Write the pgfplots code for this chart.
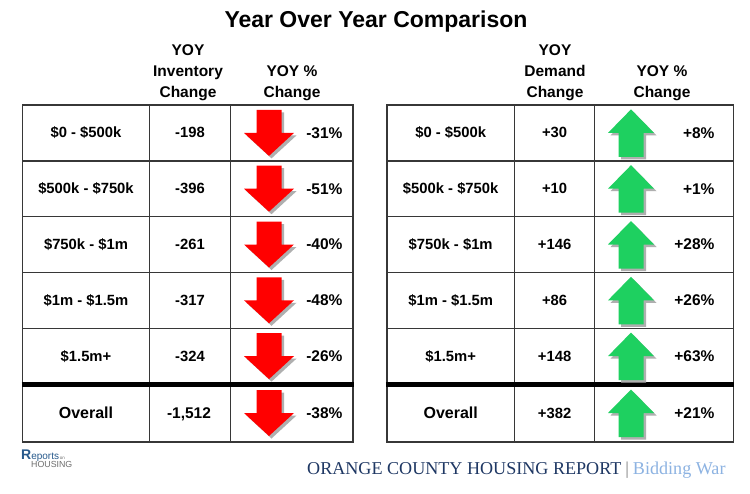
\documentclass[border=0pt]{standalone}
\usepackage{pgfplots}
\pgfplotsset{compat=1.18}
\usepackage{fontspec}
\setmainfont{Liberation Sans}
\newfontfamily\seriffont{Liberation Serif}
\definecolor{arrred}{RGB}{255,0,0}
\definecolor{arrgreen}{RGB}{30,208,96}
\definecolor{shadowgray}{RGB}{175,175,175}
\definecolor{gridc}{RGB}{55,55,55}
\definecolor{navy}{RGB}{31,56,100}
\definecolor{lightblue}{RGB}{141,179,226}
\definecolor{logoblue}{RGB}{40,90,140}
\definecolor{logogray}{RGB}{110,110,110}

% down arrow (red), mark origin = arrow centre
\pgfdeclareplotmark{downarr}{%
  \begin{pgfscope}
  \pgfsetfillcolor{shadowgray}
  \pgftransformshift{\pgfpoint{2.5pt}{-2.5pt}}
  \pgfpathmoveto{\pgfpoint{-12.5pt}{23pt}}
  \pgfpathlineto{\pgfpoint{12.5pt}{23pt}}
  \pgfpathlineto{\pgfpoint{12.5pt}{0pt}}
  \pgfpathlineto{\pgfpoint{25pt}{0pt}}
  \pgfpathlineto{\pgfpoint{0pt}{-23pt}}
  \pgfpathlineto{\pgfpoint{-25pt}{0pt}}
  \pgfpathlineto{\pgfpoint{-12.5pt}{0pt}}
  \pgfpathclose
  \pgfusepath{fill}
  \end{pgfscope}
  \begin{pgfscope}
  \pgfsetfillcolor{arrred}
  \pgfpathmoveto{\pgfpoint{-12.5pt}{23pt}}
  \pgfpathlineto{\pgfpoint{12.5pt}{23pt}}
  \pgfpathlineto{\pgfpoint{12.5pt}{0pt}}
  \pgfpathlineto{\pgfpoint{25pt}{0pt}}
  \pgfpathlineto{\pgfpoint{0pt}{-23pt}}
  \pgfpathlineto{\pgfpoint{-25pt}{0pt}}
  \pgfpathlineto{\pgfpoint{-12.5pt}{0pt}}
  \pgfpathclose
  \pgfusepath{fill}
  \end{pgfscope}
}
% up arrow (green)
\pgfdeclareplotmark{uparr}{%
  \begin{pgfscope}
  \pgfsetfillcolor{shadowgray}
  \pgftransformshift{\pgfpoint{2.5pt}{-2.5pt}}
  \pgfpathmoveto{\pgfpoint{0pt}{23.5pt}}
  \pgfpathlineto{\pgfpoint{23pt}{0pt}}
  \pgfpathlineto{\pgfpoint{12.5pt}{0pt}}
  \pgfpathlineto{\pgfpoint{12.5pt}{-24pt}}
  \pgfpathlineto{\pgfpoint{-12.5pt}{-24pt}}
  \pgfpathlineto{\pgfpoint{-12.5pt}{0pt}}
  \pgfpathlineto{\pgfpoint{-23pt}{0pt}}
  \pgfpathclose
  \pgfusepath{fill}
  \end{pgfscope}
  \begin{pgfscope}
  \pgfsetfillcolor{arrgreen}
  \pgfpathmoveto{\pgfpoint{0pt}{23.5pt}}
  \pgfpathlineto{\pgfpoint{23pt}{0pt}}
  \pgfpathlineto{\pgfpoint{12.5pt}{0pt}}
  \pgfpathlineto{\pgfpoint{12.5pt}{-24pt}}
  \pgfpathlineto{\pgfpoint{-12.5pt}{-24pt}}
  \pgfpathlineto{\pgfpoint{-12.5pt}{0pt}}
  \pgfpathlineto{\pgfpoint{-23pt}{0pt}}
  \pgfpathclose
  \pgfusepath{fill}
  \end{pgfscope}
}

\newcommand{\tf}{\fontsize{14.8}{17}\selectfont\bfseries}
\newcommand{\pf}{\fontsize{15.5}{18}\selectfont\bfseries}

\begin{document}
\begin{tikzpicture}
\begin{axis}[
  scale only axis, width=750pt, height=493pt,
  xmin=0, xmax=750, ymin=0, ymax=493, y dir=reverse,
  hide axis, clip=false,
  every node near coord/.style={anchor=center, font=\tf, text=black},
]
\fill[white] (axis cs:0,0) rectangle (axis cs:750,493);

% ---- titles and headers
\node[font=\fontsize{23}{27}\selectfont\bfseries] at (axis cs:376,22) {Year Over Year Comparison};
\node[font=\fontsize{15.5}{21}\selectfont\bfseries, align=center] at (axis cs:188,73) {YOY\\Inventory\\Change};
\node[font=\fontsize{15.5}{21}\selectfont\bfseries, align=center] at (axis cs:292,83.5) {YOY \%\\Change};
\node[font=\fontsize{15.5}{21}\selectfont\bfseries, align=center] at (axis cs:555,73) {YOY\\Demand\\Change};
\node[font=\fontsize{15.5}{21}\selectfont\bfseries, align=center] at (axis cs:662,83.5) {YOY \%\\Change};

% ---- table frames
\draw[gridc, line width=1.6pt] (axis cs:22.4,105) rectangle (axis cs:353,442);
\draw[gridc, line width=1.6pt] (axis cs:386.7,105) rectangle (axis cs:733.5,442);
\draw[gridc, line width=1.4pt] (axis cs:22.4,160.8) -- (axis cs:353,160.8);
\draw[gridc, line width=1.4pt] (axis cs:22.4,216.6) -- (axis cs:353,216.6);
\draw[gridc, line width=1.4pt] (axis cs:22.4,272.4) -- (axis cs:353,272.4);
\draw[gridc, line width=1.4pt] (axis cs:22.4,328.2) -- (axis cs:353,328.2);
\draw[gridc, line width=1.4pt] (axis cs:386.7,160.8) -- (axis cs:733.5,160.8);
\draw[gridc, line width=1.4pt] (axis cs:386.7,216.6) -- (axis cs:733.5,216.6);
\draw[gridc, line width=1.4pt] (axis cs:386.7,272.4) -- (axis cs:733.5,272.4);
\draw[gridc, line width=1.4pt] (axis cs:386.7,328.2) -- (axis cs:733.5,328.2);
\draw[gridc, line width=1.4pt] (axis cs:149.7,105) -- (axis cs:149.7,442);
\draw[gridc, line width=1.4pt] (axis cs:230.5,105) -- (axis cs:230.5,442);
\draw[gridc, line width=1.4pt] (axis cs:514.7,105) -- (axis cs:514.7,442);
\draw[gridc, line width=1.4pt] (axis cs:594.5,105) -- (axis cs:594.5,442);
\draw[black, line width=5pt] (axis cs:21.6,384) -- (axis cs:353.8,384);
\draw[black, line width=5pt] (axis cs:385.9,384) -- (axis cs:734.3,384);

% ---- left table: price bands
\addplot[draw=none, mark=none, nodes near coords, point meta=explicit symbolic]
 coordinates {(86,132.9) [\$0 - \$500k] (86,188.7) [\$500k - \$750k] (86,244.5) [\$750k - \$1m]
              (86,300.3) [\$1m - \$1.5m] (86,356.1) [\$1.5m+]};
\addplot[draw=none, mark=none, nodes near coords, point meta=explicit symbolic,
  every node near coord/.style={anchor=center, font=\fontsize{16}{18}\selectfont\bfseries}]
 coordinates {(86,413) [Overall]};
% inventory change
\addplot[draw=none, mark=none, nodes near coords, point meta=explicit symbolic]
 coordinates {(190,132.9) [-198] (190,188.7) [-396] (190,244.5) [-261]
              (190,300.3) [-317] (190,356.1) [-324]};
\addplot[draw=none, mark=none, nodes near coords, point meta=explicit symbolic,
  every node near coord/.style={anchor=base, font=\pf}]
 coordinates {(189,418.5) [-1,512]};
% arrows
\addplot[only marks, mark=downarr]
 coordinates {(269,132.9) (269,188.7) (269,244.5) (269,300.3) (269,356.1) (269,413)};
% percent
\addplot[draw=none, mark=none, nodes near coords, point meta=explicit symbolic,
  every node near coord/.style={anchor=east, font=\pf}]
 coordinates {(346,132.9) [-31\%] (346,188.7) [-51\%] (346,244.5) [-40\%]
              (346,300.3) [-48\%] (346,356.1) [-26\%] (346,413) [-38\%]};

% ---- right table
\addplot[draw=none, mark=none, nodes near coords, point meta=explicit symbolic]
 coordinates {(450.7,132.9) [\$0 - \$500k] (450.7,188.7) [\$500k - \$750k] (450.7,244.5) [\$750k - \$1m]
              (450.7,300.3) [\$1m - \$1.5m] (450.7,356.1) [\$1.5m+]};
\addplot[draw=none, mark=none, nodes near coords, point meta=explicit symbolic,
  every node near coord/.style={anchor=center, font=\fontsize{16}{18}\selectfont\bfseries}]
 coordinates {(450.7,413) [Overall]};
\addplot[draw=none, mark=none, nodes near coords, point meta=explicit symbolic]
 coordinates {(554.6,132.9) [+30] (554.6,188.7) [+10] (554.6,244.5) [+146]
              (554.6,300.3) [+86] (554.6,356.1) [+148] (554.6,413) [+382]};
\addplot[only marks, mark=uparr]
 coordinates {(631,132.9) (631,188.7) (631,244.5) (631,300.3) (631,356.1) (631,413)};
\addplot[draw=none, mark=none, nodes near coords, point meta=explicit symbolic,
  every node near coord/.style={anchor=east, font=\pf}]
 coordinates {(718,132.9) [+8\%] (718,188.7) [+1\%] (718,244.5) [+28\%]
              (718,300.3) [+26\%] (718,356.1) [+63\%] (718,413) [+21\%]};

% ---- footer
\node[anchor=base west, font=\seriffont\fontsize{18.1}{20}\selectfont, inner sep=0pt] at (axis cs:307,474)
  {\textcolor{navy}{ORANGE COUNTY HOUSING REPORT}\hspace{4pt}\textcolor{gray}{|}\hspace{4pt}\textcolor{lightblue}{Bidding War}};
\node[anchor=base west, inner sep=0pt, font=\fontsize{10}{11}\selectfont] at (axis cs:21,459)
  {\textcolor{logoblue}{\fontsize{14}{14}\selectfont\bfseries R}\textcolor{logoblue}{eports}\textcolor{logogray}{\fontsize{4.5}{5}\selectfont\,on}};
\node[anchor=base west, inner sep=0pt, font=\fontsize{8.8}{9}\selectfont] at (axis cs:31,467.5)
  {\textcolor{logogray}{HOUSING}};
\end{axis}
\end{tikzpicture}
\end{document}
